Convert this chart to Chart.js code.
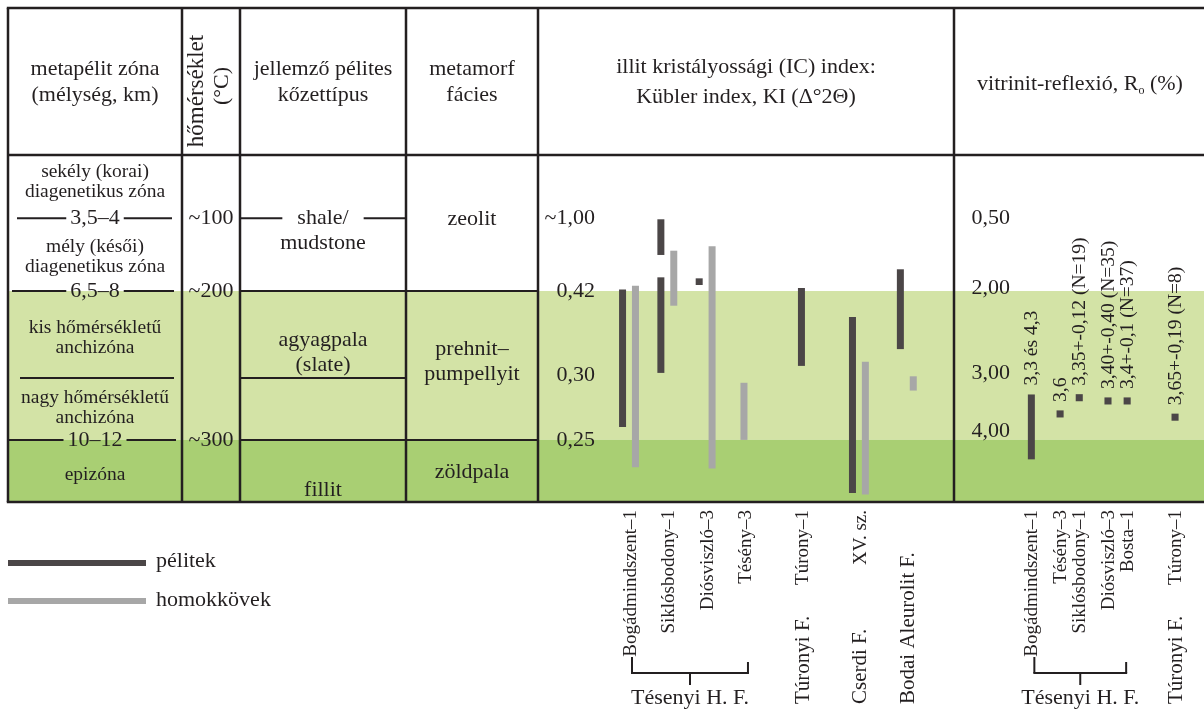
<!DOCTYPE html>
<html lang="hu">
<head>
<meta charset="utf-8">
<title>Diagenetikus – anchi – epizóna indikátorok</title>
<script src="https://cdn.jsdelivr.net/npm/chart.js@4.4.1/dist/chart.umd.min.js"></script>
<style>
  html, body { margin: 0; padding: 0; background: #fff; }
  canvas { display: block; }
</style>
</head>
<body>
<canvas id="chart" width="1204" height="710"></canvas>
<script>
// --- illit kristályossági (Kübler) index, fúrásonként ---
const icWells = ['Bogádmindszent–1', 'Siklósbodony–1', 'Diósviszló–3', 'Tésény–3', 'Túrony–1', 'XV. sz.', ''];
const icFormations = ['', '', '', '', 'Túronyi F.', 'Cserdi F.', 'Bodai Aleurolit F.'];
const kiPelitek = [[0.260, 0.433], [0.303, 0.529], [0.468, 0.521], null, [0.313, 0.444], [0.209, 0.383], [0.337, 0.593]];
const kiPelitek2 = [null, [0.707, 0.991], null, null, null, null, null];
const kiHomokkovek = [[0.229, 0.462], [0.399, 0.741], [0.228, 0.776], [0.250, 0.294], null, [0.208, 0.319], [0.288, 0.299]];
const kiTicks = [1.00, 0.42, 0.30, 0.25];
const kiTickLabels = ['~1,00', '0,42', '0,30', '0,25'];

// --- vitrinit-reflexió ---
const roWells = ['Bogádmindszent–1', 'Tésény–3', 'Siklósbodony–1', 'Diósviszló–3', 'Bosta–1', 'Túrony–1'];
const roFormations = ['', '', '', '', '', 'Túronyi F.'];
const roRange = [[3.3, 4.3], null, null, null, null, null];
const roMean = [null, 3.6, 3.35, 3.40, 3.4, 3.65];
const roLabels = ['3,3 és 4,3', '3,6', '3,35+-0,12 (N=19)', '3,40+-0,40 (N=35)', '3,4+-0,1 (N=37)', '3,65+-0,19 (N=8)'];
const roTicks = [0.50, 2.00, 3.00, 4.00];
const roTickLabels = ['0,50', '2,00', '3,00', '4,00'];

// layout
const SLOTS = 69;
const icSlot = [9, 13, 17, 21, 27, 33, 38];
const roSlot = [51, 54, 56, 59, 61, 66];
const tickFrac = [0.182, 0.392, 0.634, 0.821];   // tick rows inside the table body
const rowFrac = [0.182, 0.392, 0.643, 0.821];    // zone boundaries of the table
const roTickDy = [0, -3, -2, -9];
const colX = [8, 182, 240, 406, 538, 954, 1204];
const TOP = 8;

const DARK = '#4b4647', LIGHT = '#a7a7a7', INK = '#231f20';
const GREEN1 = '#d3e3a6', GREEN2 = '#a9cf73';
const FONT = "'Liberation Serif', 'Times New Roman', serif";

const axisTicks = { yKI: kiTicks, yRo: roTicks };

// piecewise position of a value between the tick rows
function toFrac(v, ticks) {
    const n = ticks.length;
    let i = n - 2;
    for (let k = 0; k < n - 1; k++) {
        const a = ticks[k], b = ticks[k + 1];
        if ((v - a) * (v - b) <= 0 || (k === 0 && (v - a) * (b - a) < 0)) { i = k; break; }
    }
    const a = ticks[i], b = ticks[i + 1];
    return tickFrac[i] + (v - a) / (b - a) * (tickFrac[i + 1] - tickFrac[i]);
}

class ZoneScale extends Chart.LinearScale {
    getPixelForValue(value) {
        const area = this.chart.chartArea;
        if (!area || value === null || value === undefined) return 0;
        return area.top + toFrac(value, axisTicks[this.id]) * (area.bottom - area.top);
    }
}
ZoneScale.id = 'zone';
ZoneScale.defaults = {};
Chart.register(ZoneScale);

function spread(slots, values) {
    const out = new Array(SLOTS).fill(null);
    slots.forEach((s, i) => { out[s] = values[i]; });
    return out;
}

const labels = new Array(SLOTS).fill('');
icSlot.forEach((s, i) => { labels[s] = icWells[i] || icFormations[i]; });
roSlot.forEach((s, i) => { labels[s] = roWells[i]; });

function text(ctx, str, x, y, size, align) {
    ctx.font = size + 'px ' + FONT;
    ctx.textAlign = align || 'center';
    ctx.textBaseline = 'middle';
    ctx.fillText(str, x, y);
}

function vtext(ctx, str, x, y, size, align) {
    ctx.save();
    ctx.translate(x, y);
    ctx.rotate(-Math.PI / 2);
    text(ctx, str, 0, 0, size, align);
    ctx.restore();
}

function line(ctx, x1, y1, x2, y2, w) {
    ctx.lineWidth = w || 2;
    ctx.beginPath();
    ctx.moveTo(x1, y1);
    ctx.lineTo(x2, y2);
    ctx.stroke();
}

// text sitting on a boundary line, line broken around it
function gapText(ctx, str, cx, y, size, x1, x2, gap) {
    ctx.font = size + 'px ' + FONT;
    const w = ctx.measureText(str).width;
    line(ctx, x1, y, cx - w / 2 - gap, y, 2);
    line(ctx, cx + w / 2 + gap, y, x2, y, 2);
    text(ctx, str, cx, y, size);
}

const tablePlugin = {
    id: 'table',
    beforeDatasetsDraw(chart) {
        const ctx = chart.ctx;
        const area = chart.chartArea;
        const yf = f => area.top + f * (area.bottom - area.top);
        const W = chart.width;

        ctx.save();
        ctx.fillStyle = '#fff';
        ctx.fillRect(0, 0, W, chart.height);
        ctx.fillStyle = GREEN1;
        ctx.fillRect(colX[0], yf(rowFrac[1]), W - colX[0], yf(rowFrac[3]) - yf(rowFrac[1]));
        ctx.fillStyle = GREEN2;
        ctx.fillRect(colX[0], yf(rowFrac[3]), W - colX[0], area.bottom - yf(rowFrac[3]));

        // frame
        ctx.strokeStyle = INK;
        line(ctx, colX[0] - 1.2, TOP, W, TOP, 2.5);
        line(ctx, colX[0], area.top, W, area.top, 2.5);
        line(ctx, colX[0] - 1.2, area.bottom, W, area.bottom, 2.5);
        for (let i = 0; i < 6; i++) line(ctx, colX[i], TOP, colX[i], area.bottom, 2.5);

        // inner rows
        line(ctx, colX[2], yf(rowFrac[1]), colX[4], yf(rowFrac[1]), 2);
        line(ctx, 20, yf(rowFrac[2]), 174, yf(rowFrac[2]), 2);
        line(ctx, colX[2], yf(rowFrac[2]), colX[3], yf(rowFrac[2]), 2);
        line(ctx, colX[2], yf(rowFrac[3]), colX[4], yf(rowFrac[3]), 2);

        ctx.fillStyle = INK;
        // header
        text(ctx, 'metapélit zóna', 95, 69, 22);
        text(ctx, '(mélység, km)', 95, 95, 22);
        vtext(ctx, 'hőmérséklet', 197, 91, 23);
        vtext(ctx, '(°C)', 222, 86, 22);
        text(ctx, 'jellemző pélites', 323, 69, 22);
        text(ctx, 'kőzettípus', 323, 95, 22);
        text(ctx, 'metamorf', 472, 69, 22);
        text(ctx, 'fácies', 472, 95, 22);
        text(ctx, 'illit kristályossági (IC) index:', 746, 67, 22);
        text(ctx, 'Kübler index, KI (Δ°2Θ)', 746, 97, 22);

        // vitrinit header with subscript o
        ctx.font = '22px ' + FONT;
        const a = 'vitrinit-reflexió, R', c = ' (%)';
        const wa = ctx.measureText(a).width, wc = ctx.measureText(c).width;
        ctx.font = '12px ' + FONT;
        const wb = ctx.measureText('o').width;
        let sx = 1080 - (wa + wb + wc) / 2;
        text(ctx, a, sx, 84, 22, 'left');
        text(ctx, 'o', sx + wa, 91, 12, 'left');
        text(ctx, c, sx + wa + wb, 84, 22, 'left');

        // metapélit zónák
        text(ctx, 'sekély (korai)', 95, 172, 19.5);
        text(ctx, 'diagenetikus zóna', 95, 192, 19.5);
        gapText(ctx, '3,5–4', 95, yf(rowFrac[0]), 22, 17, 172, 4);
        text(ctx, 'mély (késői)', 95, 247, 19.5);
        text(ctx, 'diagenetikus zóna', 95, 267, 19.5);
        gapText(ctx, '6,5–8', 95, yf(rowFrac[1]), 22, 12, 174, 4);
        text(ctx, 'kis hőmérsékletű', 95, 328, 19.5);
        text(ctx, 'anchizóna', 95, 348, 19.5);
        text(ctx, 'nagy hőmérsékletű', 95, 398, 19.5);
        text(ctx, 'anchizóna', 95, 418, 19.5);
        gapText(ctx, '10–12', 95, yf(rowFrac[3]), 22, 9, 176, 4);
        text(ctx, 'epizóna', 95, 475, 19.5);

        // hőmérséklet
        text(ctx, '~100', 211, yf(rowFrac[0]), 22);
        text(ctx, '~200', 211, yf(rowFrac[1]), 22);
        text(ctx, '~300', 211, yf(rowFrac[3]), 22);

        // kőzettípus
        gapText(ctx, 'shale/', 323, yf(rowFrac[0]), 22, colX[2], colX[3], 15);
        text(ctx, 'mudstone', 323, 243, 22);
        text(ctx, 'agyagpala', 323, 340, 22);
        text(ctx, '(slate)', 323, 365, 22);
        text(ctx, 'fillit', 323, 490, 22);

        // fácies
        text(ctx, 'zeolit', 472, 219, 22);
        text(ctx, 'prehnit–', 472, 349, 22);
        text(ctx, 'pumpellyit', 472, 374, 22);
        text(ctx, 'zöldpala', 472, 472, 22);
        ctx.restore();
    }
};

function bracket(ctx, x1, x2, label) {
    const mid = (x1 + x2) / 2;
    line(ctx, x1, 657, x1, 673, 2);
    line(ctx, x2, 662, x2, 673, 2);
    line(ctx, x1 - 1, 673, x2 + 1, 673, 2);
    line(ctx, mid, 673, mid, 685, 2);
    text(ctx, label, mid, 698, 22);
}

const labelPlugin = {
    id: 'labels',
    afterDatasetsDraw(chart) {
        const ctx = chart.ctx;
        const x = chart.scales.x, yKI = chart.scales.yKI, yRo = chart.scales.yRo;
        ctx.save();
        ctx.fillStyle = INK;
        ctx.strokeStyle = INK;

        kiTicks.forEach((t, i) => text(ctx, kiTickLabels[i], 595, yKI.getPixelForValue(t), 22, 'right'));
        roTicks.forEach((t, i) => text(ctx, roTickLabels[i], 1010, yRo.getPixelForValue(t) + roTickDy[i], 22, 'right'));

        icSlot.forEach((s, i) => {
            const px = x.getPixelForValue(s) + 2;
            if (icWells[i]) vtext(ctx, icWells[i], px, 510, 19, 'right');
            if (icFormations[i]) vtext(ctx, icFormations[i], px, 704, 21, 'left');
        });
        roSlot.forEach((s, i) => {
            const px = x.getPixelForValue(s);
            vtext(ctx, roWells[i], px + 1, 510, 19, 'right');
            if (roFormations[i]) vtext(ctx, roFormations[i], px + 1, 704, 21, 'left');
            const top = roRange[i] ? yRo.getPixelForValue(roRange[i][0]) - 9 : yRo.getPixelForValue(roMean[i]) - 12;
            vtext(ctx, roLabels[i], px + 1, top, 19.5, 'left');
        });

        bracket(ctx, x.getPixelForValue(icSlot[0]) + 3, x.getPixelForValue(icSlot[3]) + 4, 'Tésenyi H. F.');
        bracket(ctx, x.getPixelForValue(roSlot[0]) + 3, x.getPixelForValue(roSlot[4]) - 1, 'Tésenyi H. F.');

        // jelmagyarázat
        ctx.strokeStyle = DARK;
        line(ctx, 8, 563, 146, 563, 6);
        ctx.strokeStyle = LIGHT;
        line(ctx, 8, 601, 146, 601, 6);
        text(ctx, 'pélitek', 156, 561, 22, 'left');
        text(ctx, 'homokkövek', 156, 600, 22, 'left');
        ctx.restore();
    }
};

// pair of bars 13 px apart, 7 px wide
const slotWidth = (colX[6] - colX[4]) / SLOTS;
const barOpts = {
    categoryPercentage: 26 / slotWidth,
    barPercentage: 1,
    maxBarThickness: 7,
    skipNull: true,
    borderWidth: 0
};

new Chart(document.getElementById('chart'), {
    type: 'bar',
    data: {
        labels: labels,
        datasets: [
            Object.assign({ label: 'pélitek', data: spread(icSlot, kiPelitek), yAxisID: 'yKI', stack: 'pel', backgroundColor: DARK }, barOpts),
            Object.assign({ label: 'pélitek', data: spread(icSlot, kiPelitek2), yAxisID: 'yKI', stack: 'pel', backgroundColor: DARK }, barOpts),
            Object.assign({ label: 'homokkövek', data: spread(icSlot, kiHomokkovek), yAxisID: 'yKI', stack: 'hom', backgroundColor: LIGHT }, barOpts),
            Object.assign({ label: 'Ro tartomány', data: spread(roSlot, roRange), yAxisID: 'yRo', stack: 'ro', backgroundColor: DARK }, barOpts),
            {
                type: 'line', label: 'Ro', data: spread(roSlot, roMean), yAxisID: 'yRo',
                showLine: false, pointStyle: 'rect', pointRadius: 5, pointBorderWidth: 0,
                backgroundColor: DARK, borderColor: DARK
            }
        ]
    },
    options: {
        responsive: false,
        animation: false,
        events: [],
        layout: { padding: { left: colX[4], top: 155, right: 0, bottom: 208 } },
        plugins: { legend: { display: false }, tooltip: { enabled: false } },
        scales: {
            x: { type: 'category', display: false },
            yKI: { type: 'zone', display: false, stacked: false },
            yRo: { type: 'zone', display: false, stacked: false }
        }
    },
    plugins: [tablePlugin, labelPlugin]
});
</script>
</body>
</html>
